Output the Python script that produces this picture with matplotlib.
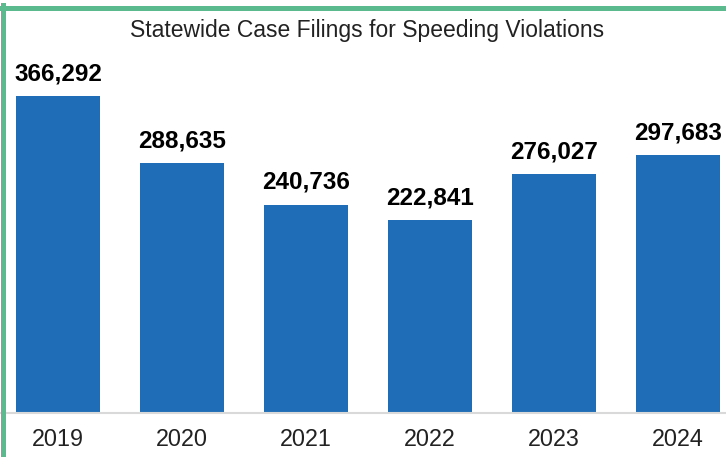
import matplotlib
matplotlib.use("Agg")
import matplotlib.pyplot as plt
from matplotlib.lines import Line2D

years = ["2019", "2020", "2021", "2022", "2023", "2024"]
filings = [366292, 288635, 240736, 222841, 276027, 297683]

plt.rcParams['font.family'] = ['Liberation Sans', 'DejaVu Sans']

W, H = 726, 457
fig = plt.figure(figsize=(W / 100, H / 100), dpi=100)

# axes spans slightly past the picture edges (reference is cropped)
left_px, right_px = -4, 740
bottom_px = 413
height_px = 400000 * 317 / 366292
ax = fig.add_axes([left_px / W, (H - bottom_px) / H,
                   (right_px - left_px) / W, height_px / H])

x = range(len(years))
bars = ax.bar(x, filings, width=0.67, color="#1f6db6")
ax.set_xlim(-0.5, len(years) - 0.5)
ax.set_ylim(0, 400000)

for b, v in zip(bars, filings):
    ax.annotate(f"{v:,}", (b.get_x() + b.get_width() / 2, v),
                xytext=(0, 11), textcoords="offset pixels",
                ha="center", va="bottom", fontsize=17.5, fontweight="bold",
                color="black")

ax.set_xticks(list(x))
ax.set_xticklabels(years, fontsize=16.8, color="#222222")
ax.tick_params(axis="x", length=0, pad=11)
ax.set_yticks([])
for s in ["top", "right", "left"]:
    ax.spines[s].set_visible(False)
ax.spines["bottom"].set_color("#d9d9d9")
ax.spines["bottom"].set_linewidth(1.5)

fig.text(367 / W, 1 - 30 / H, "Statewide Case Filings for Speeding Violations",
         ha="center", va="center", fontsize=16.5, color="#222222")

# green frame (top and left edges)
green = "#5cbb8e"
fig.add_artist(Line2D([0, 1], [1 - 7.5 / H, 1 - 7.5 / H], transform=fig.transFigure,
                      color=green, lw=3.6))
fig.add_artist(Line2D([2.5 / W, 2.5 / W], [0, 1 - 5 / H], transform=fig.transFigure,
                      color=green, lw=3.6))

fig.savefig("out.png", dpi=100)
